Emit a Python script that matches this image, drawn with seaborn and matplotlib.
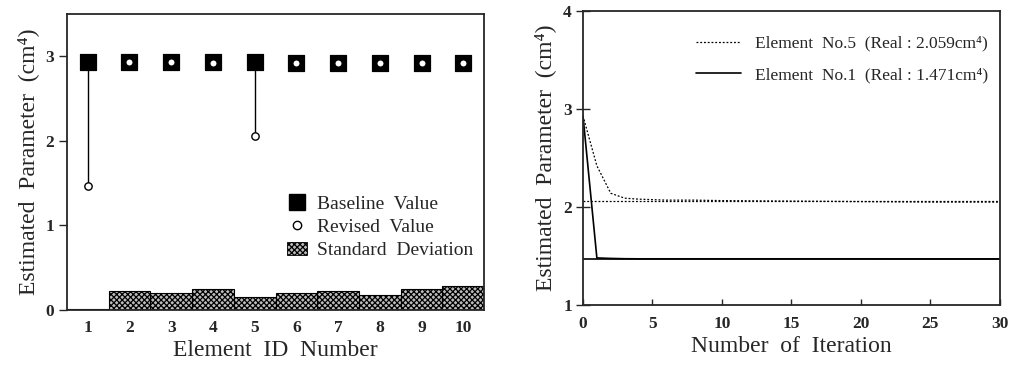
import numpy as np
import pandas as pd
import matplotlib
matplotlib.use("Agg")
import matplotlib.pyplot as plt
import seaborn as sns
from matplotlib.lines import Line2D
from matplotlib.patches import Patch

# ---------------- data ----------------
elements = [1, 2, 3, 4, 5, 6, 7, 8, 9, 10]
baseline = [2.93, 2.93, 2.93, 2.93, 2.93, 2.92, 2.92, 2.92, 2.92, 2.92]
revised = [1.47, 2.93, 2.93, 2.92, 2.06, 2.92, 2.92, 2.92, 2.92, 2.92]
std_dev = [0.01, 0.22, 0.20, 0.25, 0.15, 0.20, 0.22, 0.18, 0.25, 0.29]

iterations = [0, 1, 2, 3, 4, 5, 6, 8, 10, 15, 20, 25, 30]
elem5 = [2.93, 2.42, 2.14, 2.09, 2.08, 2.075, 2.07, 2.07, 2.065, 2.06, 2.055, 2.05, 2.05]
elem1 = [2.93, 1.48, 1.475, 1.472, 1.471, 1.471, 1.471, 1.471, 1.471, 1.471, 1.471, 1.47, 1.47]
real5 = 2.059
real1 = 1.471

sns.set_theme(style="ticks")
plt.rcParams['font.family'] = ['Liberation Serif', 'DejaVu Serif']
plt.rcParams['hatch.linewidth'] = 0.9

fig = plt.figure(figsize=(10.13, 3.67), dpi=100)
ax1 = fig.add_axes([0.066, 0.155, 0.412, 0.807])
ax2 = fig.add_axes([0.5755, 0.169, 0.4115, 0.801])

HATCH = "xxxxxx"
FACE = "#bcbcbc"

# ---------------- left panel ----------------
df = pd.DataFrame({"element": elements, "baseline": baseline,
                   "revised": revised, "std": std_dev})
sns.barplot(data=df, x="element", y="std", native_scale=True, width=1.0,
            color=FACE, edgecolor="black", linewidth=0.8, hatch=HATCH,
            ax=ax1, zorder=2)
for p in ax1.patches:
    p.set_facecolor(FACE)
    p.set_edgecolor("black")

for e, b, r in zip(elements, baseline, revised):
    if abs(b - r) > 0.05:
        ax1.vlines(e, r, b, color="black", lw=1.0, zorder=3)

sns.scatterplot(data=df, x="element", y="baseline", marker="s", s=120,
                color="black", edgecolor="black", ax=ax1, zorder=4)
sns.scatterplot(data=df, x="element", y="revised", marker="o", s=28,
                facecolor="white", edgecolor="black", linewidth=1.0, ax=ax1, zorder=5)

ax1.set_xlim(0.5, 10.5)
ax1.set_ylim(0, 3.5)
ax1.set_xticks(elements)
ax1.set_yticks([0, 1, 2, 3])
ax1.set_xticklabels([str(e) for e in elements], fontweight="bold", fontsize=12.5)
ax1.set_yticklabels(["0", "1", "2", "3"], fontweight="bold", fontsize=12.5)
ax1.tick_params(axis="y", direction="out", length=6, width=1, pad=3)
ax1.tick_params(axis="x", direction="in", length=0, pad=7)
ax1.set_xlabel("Element  ID  Number", fontsize=17, labelpad=3)
ax1.set_ylabel("Estimated  Parameter  (cm⁴)", fontsize=17, labelpad=5)
for s in ax1.spines.values():
    s.set_linewidth(1.3)
    s.set_visible(True)

h1 = [Line2D([], [], marker="s", color="black", linestyle="none", markersize=11),
      Line2D([], [], marker="o", markerfacecolor="white", markeredgecolor="black",
             linestyle="none", markersize=6),
      Patch(facecolor=FACE, edgecolor="black", hatch=HATCH, linewidth=0.6)]
ax1.legend(h1, ["Baseline  Value", "Revised  Value", "Standard  Deviation"],
           loc="upper left", bbox_to_anchor=(0.51, 0.415), frameon=False,
           fontsize=14, handlelength=1.0, handletextpad=0.5, labelspacing=0.3,
           borderaxespad=0)

# ---------------- right panel ----------------
dfi = pd.DataFrame({"iter": iterations, "e5": elem5, "e1": elem1})
sns.lineplot(data=dfi, x="iter", y="e5", color="black", lw=0.9,
             linestyle=(0, (1.5, 1.5)), ax=ax2)
sns.lineplot(data=dfi, x="iter", y="e1", color="black", lw=1.2, ax=ax2)
ax2.axhline(real5, color="black", lw=0.9, linestyle=(0, (1.5, 1.5)))
ax2.axhline(real1, color="black", lw=1.2)

ax2.set_xlim(0, 30)
ax2.set_ylim(1, 4)
ax2.set_xticks([0, 5, 10, 15, 20, 25, 30])
ax2.set_yticks([1, 2, 3, 4])
ax2.set_xticklabels(["0", "5", "10", "15", "20", "25", "30"], fontweight="bold", fontsize=12.5)
ax2.set_yticklabels(["1", "2", "3", "4"], fontweight="bold", fontsize=12.5)
ax2.tick_params(axis="y", direction="inout", length=10, width=1, pad=3)
ax2.tick_params(axis="x", direction="in", length=4, width=1, pad=8)
ax2.set_xlabel("Number  of  Iteration", fontsize=17, labelpad=3)
ax2.set_ylabel("Estimated  Parameter  (cm⁴)", fontsize=17, labelpad=5)
for s in ax2.spines.values():
    s.set_linewidth(1.3)
    s.set_visible(True)

h2 = [Line2D([], [], color="black", lw=0.9, linestyle=(0, (1.5, 1.5))),
      Line2D([], [], color="black", lw=1.2)]
ax2.legend(h2, ["Element  No.5  (Real : 2.059cm⁴)", "Element  No.1  (Real : 1.471cm⁴)"],
           loc="upper left", bbox_to_anchor=(0.255, 0.94), frameon=False,
           fontsize=12.5, handlelength=2.6, handletextpad=0.8, labelspacing=0.9,
           borderaxespad=0)

fig.savefig("out.png", dpi=100)
